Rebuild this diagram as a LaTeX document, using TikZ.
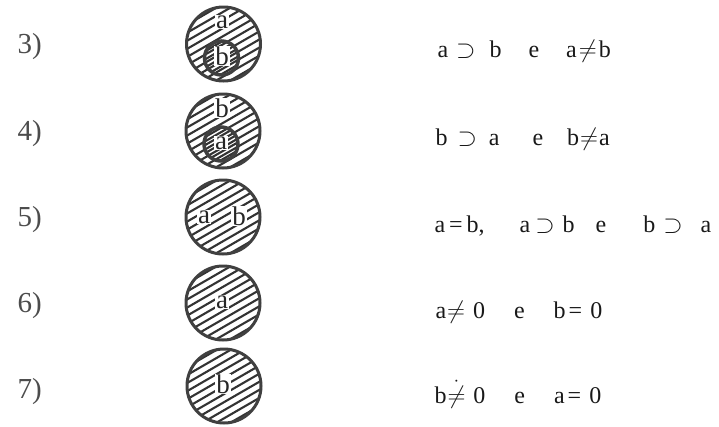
\documentclass[tikz,border=0pt]{standalone}
\usepackage{amsmath,amssymb}
\usepackage{fontspec}
\setmainfont{Liberation Serif}
\usetikzlibrary{calc}

\tikzset{
  hachure/.style={path picture={
      \foreach \k in {-8,...,8}
        \draw[black!80, line width=2.1pt]
          ($(path picture bounding box.center)+(60:7*\k)+(-30:60)$) --
          ($(path picture bounding box.center)+(60:7*\k)+(150:60)$);
  }},
  disque/.style={circle, draw=black!75, line width=3pt, minimum size=74pt, inner sep=0pt, hachure},
  petitdisque/.style={circle, draw=black!75, line width=3.5pt, minimum size=34pt, inner sep=0pt, hachure},
  lettre/.style={fill=white, inner sep=0.8pt, text=black!85, font=\fontsize{27}{28}\selectfont},
  numero/.style={anchor=base west, text=black!70, font=\fontsize{29}{30}\selectfont},
  texte/.style={anchor=base west, text=black!90, font=\fontsize{24}{26}\selectfont},
}

\begin{document}
\begin{tikzpicture}[x=1pt, y=-1pt]
    \useasboundingbox (0,0) rectangle (719,426);

    % Numeros des cas
    \foreach \n/\y in {3/53, 4/140, 5/226, 6/312, 7/398} {
        \node[numero] (num\n) at (14,\y) {\n)};
    }

    % Cas 3 : b dans a
    \node[disque] (d3) at (223.5,44) {};
    \node[petitdisque] (p3) at (221.5,58) {};
    \node[lettre] (a3) at (222,22) {a};
    \node[lettre] (b3) at (222,56) {b};

    % Cas 4 : a dans b
    \node[disque] (d4) at (223,131) {};
    \node[petitdisque] (p4) at (221,144) {};
    \node[lettre] (b4) at (222,108) {b};
    \node[lettre] (a4) at (221,143) {a};

    % Cas 5 : a = b
    \node[disque] (d5) at (223,217) {};
    \node[lettre] (a5) at (204,217) {a};
    \node[lettre] (b5) at (239,216) {b};

    % Cas 6 et 7
    \node[disque] (d6) at (223,303) {};
    \node[lettre] (a6) at (222,302) {a};
    \node[disque] (d7) at (224,386) {};
    \node[lettre] (b7) at (223,384) {b};

    % Relations
    \node[texte] (t3) at (434,57)
        {a\hspace{8pt}$\supset$\hspace{14pt}b\hspace{27pt}e\hspace{27pt}a\hspace{2pt}$\neq$\hspace{2pt}b};
    \node[texte] (t4) at (432,145)
        {b\hspace{10pt}$\supset$\hspace{12pt}a\hspace{33pt}e\hspace{24pt}b\hspace{1pt}$\neq$\hspace{1pt}a};
    \node[texte] (t5) at (431,232)
        {a\hspace{4pt}=\hspace{4pt}b,\hspace{35pt}a\hspace{5pt}$\supset$\hspace{8pt}b\hspace{21pt}e\hspace{37pt}b\hspace{8pt}$\supset$\hspace{18pt}a};
    \node[texte] (t6) at (432,318)
        {a\hspace{1pt}$\neq$\hspace{8pt}0\hspace{29pt}e\hspace{29pt}b\hspace{3pt}=\hspace{8pt}0};
    \node[texte] (t7) at (431,403)
        {b\hspace{1pt}$\mathrel{\dot{\neq}}$\hspace{8pt}0\hspace{29pt}e\hspace{29pt}a\hspace{3pt}=\hspace{8pt}0};
\end{tikzpicture}
\end{document}
